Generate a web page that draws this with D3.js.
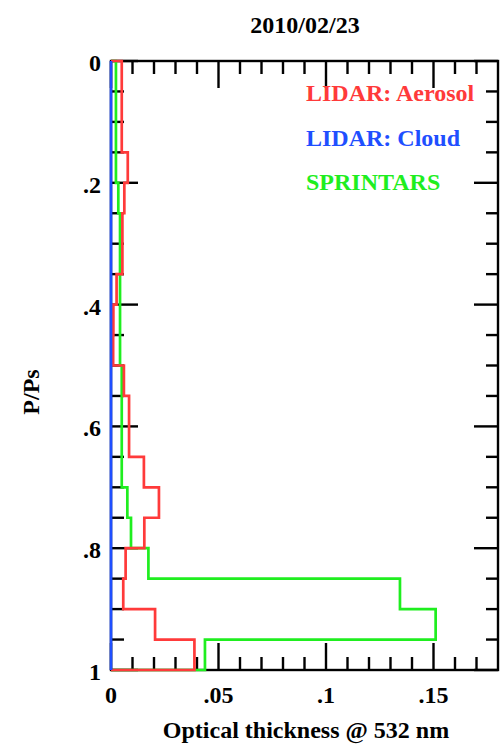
<!DOCTYPE html>
<html>
<head>
<meta charset="utf-8">
<script src="https://cdn.jsdelivr.net/npm/d3@7"></script>
<style>
  html, body { margin: 0; padding: 0; background: #fff; }
  svg { display: block; }
  text { font-family: "Liberation Serif", "Times New Roman", serif; font-weight: bold; }
</style>
</head>
<body>
<svg id="chart" width="502" height="746"></svg>
<script>
// ---- data ----
const title = "2010/02/23";
const xLabel = "Optical thickness @ 532 nm";
const yLabel = "P/Ps";
// layer edges in P/Ps (0.05 steps)
const layerEdges = [0, 0.05, 0.1, 0.15, 0.2, 0.25, 0.3, 0.35, 0.4, 0.45, 0.5,
                    0.55, 0.6, 0.65, 0.7, 0.75, 0.8, 0.85, 0.9, 0.95, 1.0];
const lidarAerosol = [0.005, 0.005, 0.005, 0.0078, 0.0062, 0.0053, 0.0053, 0.0026, 0.0011, 0.001,
                      0.006, 0.0084, 0.0084, 0.0153, 0.0223, 0.0155, 0.0068, 0.0057, 0.0205, 0.0388];
const lidarCloud   = [0, 0, 0, 0, 0, 0, 0, 0, 0, 0, 0, 0, 0, 0, 0, 0, 0, 0, 0, 0];
const sprintars    = [0.0023, 0.0023, 0.0023, 0.0023, 0.0034, 0.0042, 0.0042, 0.0042, 0.0042, 0.0042,
                      0.005, 0.005, 0.005, 0.005, 0.0076, 0.0093, 0.0174, 0.1344, 0.151, 0.0437];
const seriesNames = ["SPRINTARS", "LIDAR: Aerosol", "LIDAR: Cloud"];
const legendOrder = ["LIDAR: Aerosol", "LIDAR: Cloud", "SPRINTARS"];
const xMajorTicks = [0, 0.05, 0.1, 0.15];
const xMajorLabels = ["0", ".05", ".1", ".15"];
const xMinorTicks = [0.01, 0.02, 0.03, 0.04, 0.06, 0.07, 0.08, 0.09, 0.11, 0.12, 0.13, 0.14, 0.16, 0.17];
const yMajorTicks = [0, 0.2, 0.4, 0.6, 0.8, 1.0];
const yMajorLabels = ["0", ".2", ".4", ".6", ".8", "1"];
const yMinorTicks = [0.05, 0.1, 0.15, 0.25, 0.3, 0.35, 0.45, 0.5, 0.55, 0.65, 0.7, 0.75, 0.85, 0.9, 0.95];

// ---- layout ----
const pL = 111, pR = 498, pT = 61, pB = 670;
const colors = { "LIDAR: Aerosol": "#ff3a3a", "LIDAR: Cloud": "#1f4fff", "SPRINTARS": "#1fee1f" };
const values = { "LIDAR: Aerosol": lidarAerosol, "LIDAR: Cloud": lidarCloud, "SPRINTARS": sprintars };

const svg = d3.select("#chart");
const x = d3.scaleLinear().domain([0, 0.18]).range([pL, pR]);
const y = d3.scaleLinear().domain([0, 1]).range([pT, pB]);

const fs = 24;

// ticks (inward)
const g = svg.append("g").attr("stroke", "#000").attr("stroke-width", 2.4);
function xt(vals, len) {
  vals.forEach(v => {
    g.append("line").attr("x1", x(v)).attr("x2", x(v)).attr("y1", pB).attr("y2", pB - len);
    g.append("line").attr("x1", x(v)).attr("x2", x(v)).attr("y1", pT).attr("y2", pT + len);
  });
}
function yt(vals, lenL, lenR) {
  vals.forEach(v => {
    g.append("line").attr("y1", y(v)).attr("y2", y(v)).attr("x1", pL).attr("x2", pL + lenL);
    g.append("line").attr("y1", y(v)).attr("y2", y(v)).attr("x1", pR).attr("x2", pR - lenR);
  });
}
xt(xMajorTicks, 27); xt(xMinorTicks, 13);
yt(yMajorTicks, 27, 24); yt(yMinorTicks, 13, 12);

// frame
svg.append("rect").attr("x", pL).attr("y", pT).attr("width", pR - pL).attr("height", pB - pT)
  .attr("fill", "none").attr("stroke", "#000").attr("stroke-width", 2.4);

// step profiles
function stepPoints(vals) {
  const pts = [[0, layerEdges[0]]];
  vals.forEach((v, i) => { pts.push([v, layerEdges[i]]); pts.push([v, layerEdges[i + 1]]); });
  pts.push([0, layerEdges[layerEdges.length - 1]]);
  return pts;
}
const line = d3.line().x(d => x(d[0])).y(d => y(d[1]));
seriesNames.forEach(name => {
  svg.append("path").attr("d", line(stepPoints(values[name])))
    .attr("fill", "none").attr("stroke", colors[name]).attr("stroke-width", 2.7)
    .attr("stroke-linejoin", "miter");
});

// tick labels
svg.append("g").selectAll("text").data(xMajorTicks).join("text")
  .attr("x", d => x(d)).attr("y", pB + 33).attr("text-anchor", "middle")
  .attr("font-size", fs).text((d, i) => xMajorLabels[i]);
svg.append("g").selectAll("text").data(yMajorTicks).join("text")
  .attr("x", pL - 10).attr("y", d => y(d) + 10).attr("text-anchor", "end")
  .attr("font-size", fs).text((d, i) => yMajorLabels[i]);

// titles
svg.append("text").attr("x", 305).attr("y", 33).attr("text-anchor", "middle").attr("font-size", fs).text(title);
svg.append("text").attr("x", 306).attr("y", 738).attr("text-anchor", "middle").attr("font-size", fs).text(xLabel);
svg.append("text").attr("transform", "translate(39,392) rotate(-90)").attr("text-anchor", "middle")
  .attr("font-size", fs).text(yLabel);

// legend
legendOrder.forEach((name, i) => {
  svg.append("text").attr("x", 306).attr("y", 101 + i * 44.5).attr("font-size", fs)
    .attr("fill", colors[name]).text(name);
});
</script>
</body>
</html>
